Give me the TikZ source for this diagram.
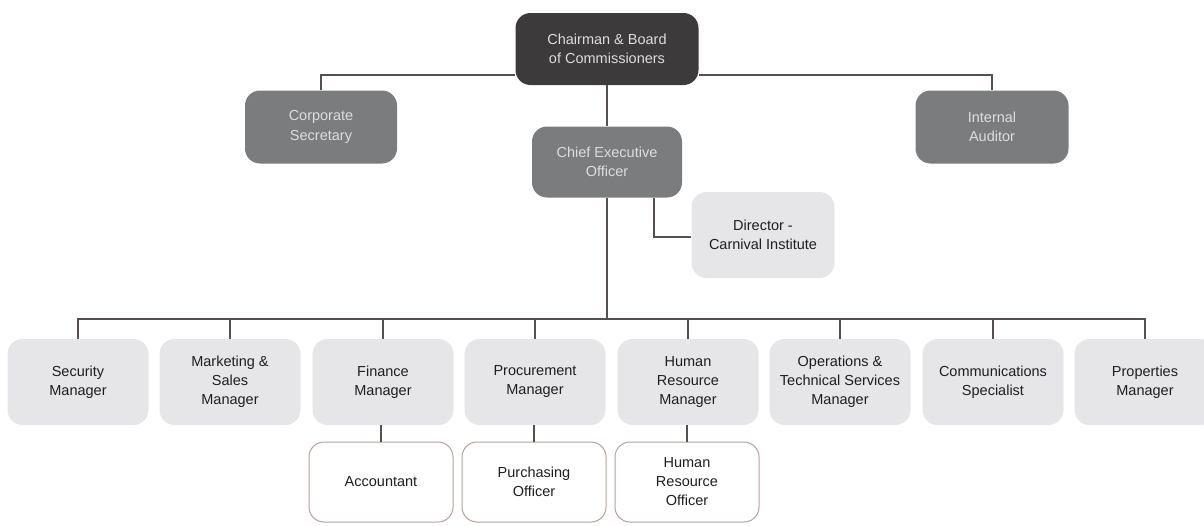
\documentclass[tikz,border=0pt]{standalone}
\usepackage{fontspec}
\setmainfont{Liberation Sans}
\definecolor{darkbox}{HTML}{3C3A3B}
\definecolor{midbox}{HTML}{7B7C7E}
\definecolor{lightbox}{HTML}{E6E6E8}
\definecolor{subborder}{HTML}{B5A29B}
\definecolor{linecol}{HTML}{554F4F}
\definecolor{lighttext}{HTML}{DDDDDD}
\definecolor{darktext}{HTML}{1E1E1E}
\begin{document}
\begin{tikzpicture}[x=1pt,y=-1pt,
  base/.style={rounded corners=15pt, inner sep=0pt, align=center,
    font=\fontsize{14.5pt}{19.5pt}\selectfont},
  topbox/.style={base, fill=darkbox, text=lighttext, minimum width=183pt, minimum height=72pt},
  midbox/.style={base, fill=midbox, text=lighttext, minimum height=73pt},
  mgrbox/.style={base, fill=lightbox, text=darktext, minimum width=141pt, minimum height=86pt,
    font=\fontsize{14.5pt}{19pt}\selectfont},
  subbox/.style={base, fill=white, draw=subborder, line width=1pt, text=darktext,
    minimum width=144pt, minimum height=80pt, font=\fontsize{14.5pt}{19pt}\selectfont},
  conn/.style={draw=linecol, line width=2.6pt}]
\useasboundingbox (0,0) rectangle (1204,525);

\coordinate (topbus) at (607,75);
\coordinate (bus) at (607,319);

% boxes
\node[topbox] (chair) at (607,49) {Chairman \& Board\\of Commissioners};
\node[midbox, minimum width=152pt] (cs) at (321,127) {Corporate\\Secretary};
\node[midbox, minimum width=153pt] (ia) at (992,127) {Internal\\Auditor};
\node[midbox, minimum width=150pt, minimum height=71pt] (ceo) at (607,162) {Chief Executive\\Officer};
\node[mgrbox, minimum width=143pt] (dir) at (763,235) {Director -\\Carnival Institute};

\node[mgrbox] (b1) at (78,382) {Security\\Manager};
\node[mgrbox] (b2) at (230,382) {Marketing \&\\Sales\\Manager};
\node[mgrbox] (b3) at (383,382) {Finance\\Manager};
\node[mgrbox] (b4) at (535,382) {Procurement\\Manager};
\node[mgrbox] (b5) at (688,382) {Human\\Resource\\Manager};
\node[mgrbox] (b6) at (840,382) {Operations \&\\Technical Services\\Manager};
\node[mgrbox] (b7) at (993,382) {Communications\\Specialist};
\node[mgrbox] (b8) at (1145,382) {Properties\\Manager};

\node[subbox] (s1) at (381,482) {Accountant};
\node[subbox] (s2) at (534,482) {Purchasing\\Officer};
\node[subbox] (s3) at (687,482) {Human\\Resource\\Officer};

% connectors
\path[conn] (cs.north) -- (cs.north |- topbus) -- (chair.west |- topbus);
\path[conn] (chair.east |- topbus) -- (ia.north |- topbus) -- (ia.north);
\path[conn] (chair.south) -- (ceo.north);
\path[conn] (ceo.south) -- (bus);
\path[conn] ([xshift=47pt]ceo.south) |- ([yshift=-2pt]dir.west);
\path[conn] (b1.north) |- (bus) -| (b8.north);
\foreach \b in {b2,b3,b4,b5,b6,b7}{\path[conn] (\b.north) -- (\b.north |- bus);}
\path[conn] (b3.south -| s1.north) -- (s1.north);
\path[conn] (b4.south -| s2.north) -- (s2.north);
\path[conn] (b5.south -| s3.north) -- (s3.north);
\end{tikzpicture}
\end{document}
